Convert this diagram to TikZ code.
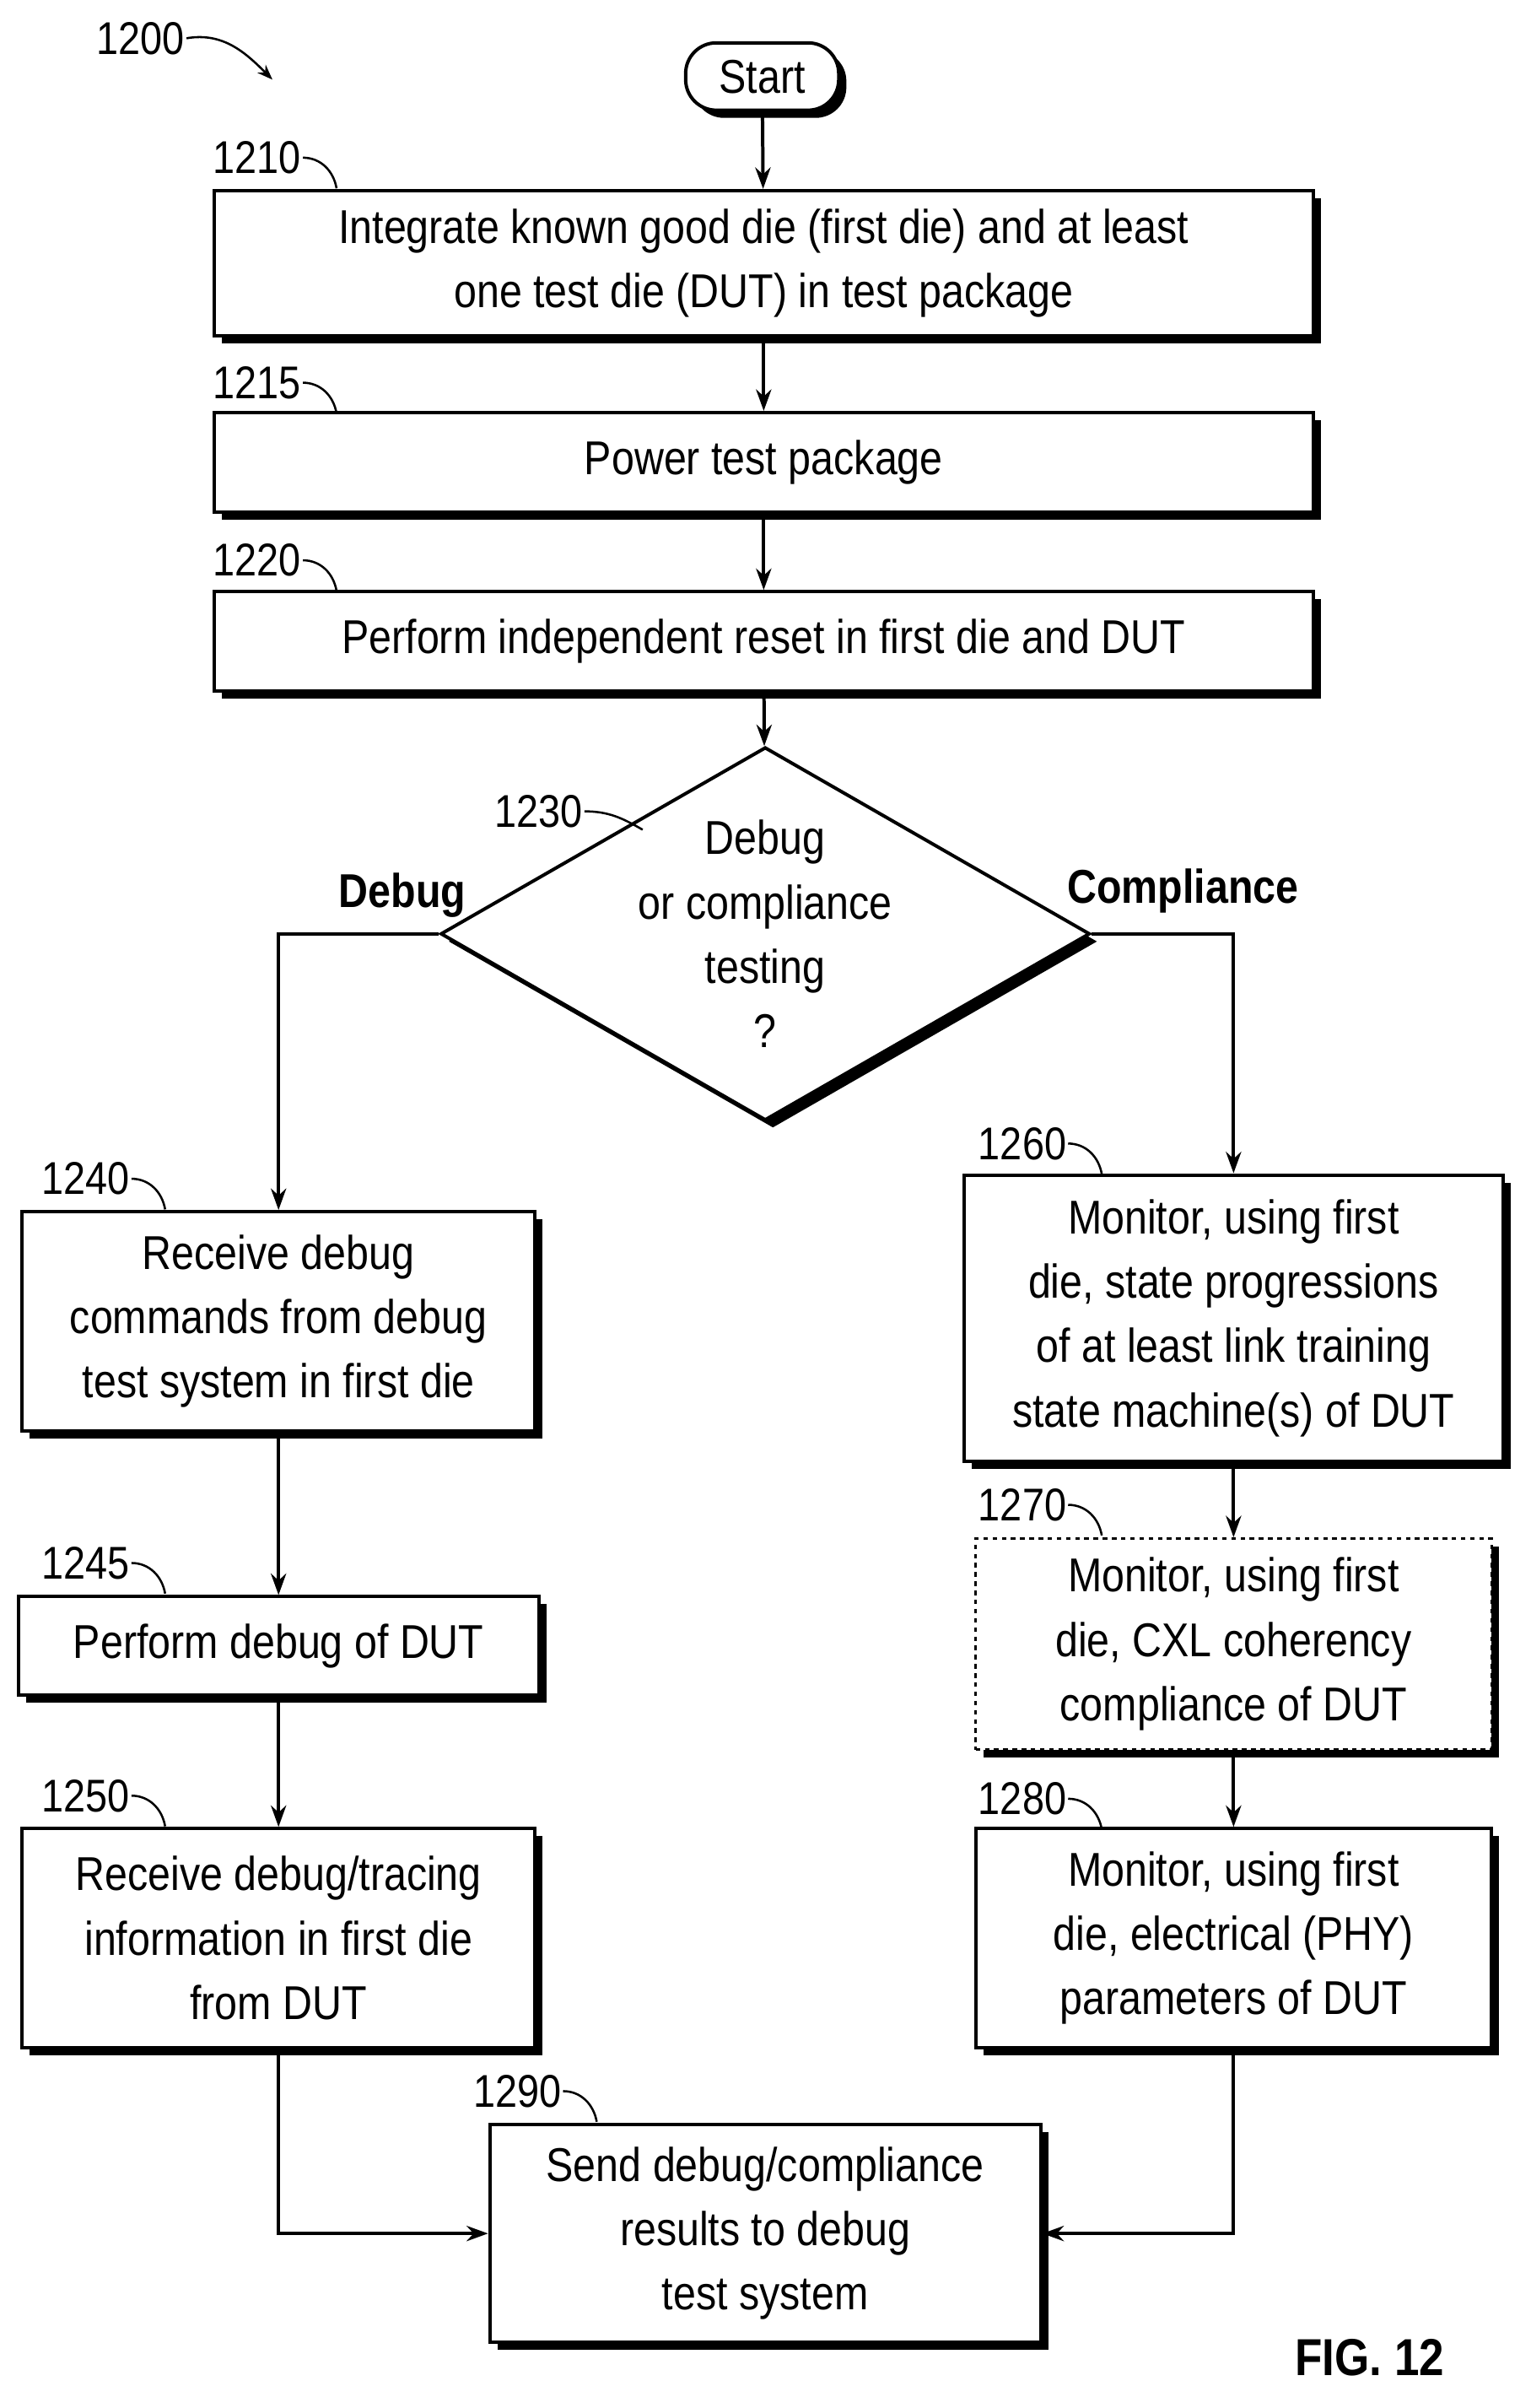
\documentclass[tikz,border=0pt]{standalone}
\usepackage{fontspec}
\setmainfont[FakeStretch=0.86]{Liberation Sans}
\usetikzlibrary{shapes.geometric,shadows,arrows.meta}

\tikzset{
  box/.style={draw,fill=white,line width=2.2pt,align=center,inner sep=2pt,
    drop shadow={shadow xshift=5pt,shadow yshift=-5pt,opacity=1,fill=black}},
  refl/.style={font=\fontsize{30}{30}\selectfont,inner sep=1pt},
  tick/.style={line width=1.4pt},
  flow/.style={line width=2.2pt,-{Stealth[length=14pt,width=10pt]}},
  branch/.style={font=\fontsize{31}{31}\selectfont\bfseries}
}
\newcommand{\boxat}[6]{% name, x, y, width, height, text
  \node[box,minimum width=#4pt,minimum height=#5pt,#6] (#1) at (#2,#3)}

\begin{document}
\begin{tikzpicture}[x=1pt,y=-1pt,font=\fontsize{31}{42}\selectfont]
\useasboundingbox (0,0) rectangle (1000,1573);

% start and top boxes
\node[box,rounded corners=20pt,minimum width=100pt,minimum height=44pt] (start) at (498,50) {Start};
\boxat{s1210}{499}{172}{718}{95}{}{Integrate known good die (first die) and at least\\one test die (DUT) in test package};
\boxat{s1215}{499}{302}{718}{65}{}{Power test package};
\boxat{s1220}{499}{419}{718}{65}{}{Perform independent reset in first die and DUT};
\node[diamond,draw,fill=white,line width=2.2pt,minimum width=375pt,minimum height=215pt,inner sep=0pt,align=center,
  drop shadow={shadow xshift=5pt,shadow yshift=-5pt,opacity=1,fill=black},aspect=1.74] (d1230) at (500,610)
  {Debug\\or compliance\\testing\\?};

% debug branch
\boxat{s1240}{182}{863}{335}{143}{}{Receive debug\\commands from debug\\test system in first die};
\boxat{s1245}{182}{1075}{340}{64}{}{Perform debug of DUT};
\boxat{s1250}{182}{1266}{335}{143}{}{Receive debug/tracing\\information in first die\\from DUT};

% compliance branch
\boxat{s1260}{806}{861}{352}{187}{}{Monitor, using first\\die, state progressions\\of at least link training\\state machine(s) of DUT};
\boxat{s1270}{806}{1074}{337}{138}{dashed,line width=1.6pt}{Monitor, using first\\die, CXL coherency\\compliance of DUT};
\boxat{s1280}{806}{1266}{337}{143}{}{Monitor, using first\\die, electrical (PHY)\\parameters of DUT};
\boxat{s1290}{500}{1459}{360}{142}{}{Send debug/compliance\\results to debug\\test system};

% reference numerals
\node[refl] (l1200) at (92,25) {1200};
\draw[tick,-{Stealth[length=10pt]}] (l1200.east) to[out=10,in=135] (178,52);
\foreach \n/\x/\y/\b in {1210/168/103/s1210,1215/168/250/s1215,1220/168/366/s1220,
  1240/56/770/s1240,1245/56/1021/s1245,1250/56/1173/s1250,1260/668/747/s1260,
  1270/668/983/s1270,1280/668/1175/s1280,1290/338/1366/s1290}{
  \node[refl] (l\n) at (\x,\y) {\n};
  \draw[tick] (l\n.east) to[out=0,in=100] ++(22,20);
}
\node[refl] (l1230) at (352,530) {1230};
\draw[tick] (l1230.east) to[out=0,in=150] ++(38,12);

% connectors
\draw[flow] (start) -- (s1210);
\draw[flow] (s1210) -- (s1215);
\draw[flow] (s1215) -- (s1220);
\draw[flow] (s1220) -- (d1230);
\draw[flow] (d1230.west) -| (s1240.north);
\draw[flow] (d1230.east) -| (s1260.north);
\draw[flow] (s1240) -- (s1245);
\draw[flow] (s1245) -- (s1250);
\draw[flow] (s1260) -- (s1270);
\draw[flow] (s1270) -- (s1280);
\draw[flow] (s1250.south) |- (s1290.west);
\draw[flow] (s1280.south) |- (s1290.east);

\node[branch] (debug) at (263,585) {Debug};
\node[branch] (compl) at (773,582) {Compliance};
\node[branch,font=\fontsize{34}{34}\selectfont\bfseries] (fig) at (895,1540) {FIG. 12};
\end{tikzpicture}
\end{document}
